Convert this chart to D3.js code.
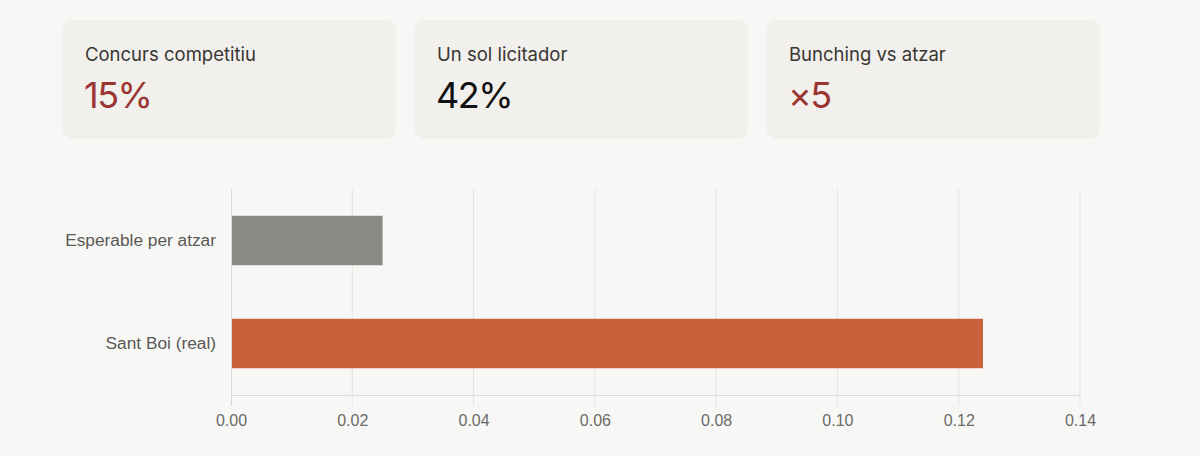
<!DOCTYPE html>
<html><head><meta charset="utf-8">
<script src="https://cdn.jsdelivr.net/npm/d3@7"></script>
<style>
html,body{margin:0;padding:0;background:#f7f7f5;}
svg{display:block;}
</style></head>
<body>
<svg id="chart" width="1200" height="456"></svg>
<script>
// KPI cards
const cardLabels = ["Concurs competitiu", "Un sol licitador", "Bunching vs atzar"];
const cardValues = ["15%", "42%", "×5"];
const cardColors = ["#9a3431", "#111111", "#9a3431"];

// Bar chart
const categories = ["Esperable per atzar", "Sant Boi (real)"];
const values = [0.025, 0.124];
const barColors = ["#8a8983", "#c8613c"];
const xTicks = [0, 0.02, 0.04, 0.06, 0.08, 0.10, 0.12, 0.14];

const svg = d3.select("#chart");

// cards
const cardX = d3.scalePoint().domain(d3.range(3)).range([62, 766]);
const cards = svg.selectAll("g.card").data(cardLabels).join("g")
  .attr("class", "card")
  .attr("transform", (d, i) => `translate(${cardX(i)},20)`);
cards.append("rect").attr("width", 334).attr("height", 119).attr("rx", 11)
  .attr("fill", "#f2f0ec");
cards.append("text").attr("x", 23).attr("y", 41)
  .attr("font-family", "Inter, 'Noto Sans', sans-serif").attr("font-size", 18.5)
  .attr("fill", "#383633").text(d => d);
cards.append("text").attr("x", 22).attr("y", 88)
  .attr("font-family", "Inter, 'Noto Sans', sans-serif").attr("font-size", 36)
  .attr("letter-spacing", -1.5)
  .attr("fill", (d, i) => cardColors[i]).text((d, i) => cardValues[i]);

// chart
const x = d3.scaleLinear().domain([0, 0.14]).range([231, 1080]);
const y = d3.scaleBand().domain(categories).range([189, 395]).paddingInner(0.52).paddingOuter(0.26);

// gridlines
svg.append("g").selectAll("line").data(xTicks.slice(1)).join("line")
  .attr("x1", d => x(d)).attr("x2", d => x(d))
  .attr("y1", 189).attr("y2", 406)
  .attr("stroke", "#e4e3e0").attr("stroke-width", 1);

// bars
svg.append("g").selectAll("rect").data(values).join("rect")
  .attr("x", x(0)).attr("y", (d, i) => y(categories[i]))
  .attr("width", d => x(d) - x(0)).attr("height", y.bandwidth())
  .attr("fill", (d, i) => barColors[i]);

// axis lines
svg.append("line").attr("x1", 231).attr("x2", 1080).attr("y1", 395.5).attr("y2", 395.5)
  .attr("stroke", "#d8d7d4");
svg.append("line").attr("x1", 231.5).attr("x2", 231.5).attr("y1", 189).attr("y2", 406)
  .attr("stroke", "#d8d7d4");

// x tick labels
const xAxis = d3.axisBottom(x).tickValues(xTicks).tickFormat(d3.format(".2f")).tickSize(0).tickPadding(20);
const gx = svg.append("g").attr("transform", "translate(0,395)").call(xAxis);
gx.select(".domain").remove();
gx.selectAll("text").attr("font-family", "'Liberation Sans', Arial, sans-serif")
  .attr("font-size", 16).attr("fill", "#6b6a67");

// y labels
const yAxis = d3.axisLeft(y).tickSize(0).tickPadding(15);
const gy = svg.append("g").attr("transform", "translate(231,0)").call(yAxis);
gy.select(".domain").remove();
gy.selectAll("text").attr("font-family", "'Liberation Sans', Arial, sans-serif")
  .attr("font-size", 17.3).attr("fill", "#5a5956");
</script>
</body></html>
